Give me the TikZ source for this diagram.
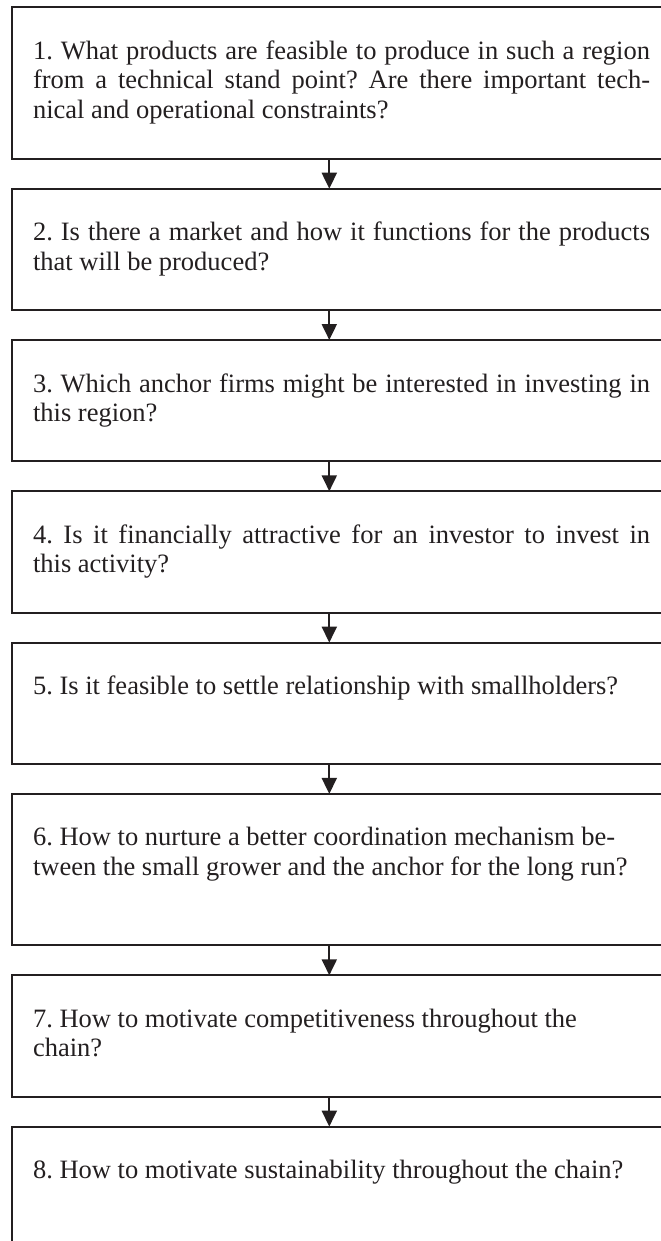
\documentclass[tikz,border=0pt]{standalone}
\usepackage{fontspec}
\setmainfont{Liberation Serif}
\usetikzlibrary{positioning,arrows.meta}

\definecolor{ink}{RGB}{35,31,32}
\colorlet{box edge}{ink}
\def\qwidth{246.8pt}
\def\shortbox{48.52pt}
\def\tallbox{60.56pt}
\newcommand{\qtext}[2]{\parbox[t][#1][t]{\qwidth}{\frenchspacing\tolerance=9999\rule{0pt}{20.8pt}#2}}
\tikzset{qbox/.style={draw=box edge, line width=0.8pt, rectangle, outer sep=0pt,
        inner xsep=8.3pt, inner ysep=0pt, text=ink,
        font=\fontsize{10.6pt}{11.8pt}\selectfont},
    flow/.style={draw=box edge, line width=0.8pt, -{Triangle[width=6pt,length=6.4pt]}}}

\begin{document}
\begin{tikzpicture}[node distance=12pt]
    \useasboundingbox (0,0) rectangle (264.4pt,-496.4pt);
    \clip (0,0) rectangle (264.4pt,-496.4pt);
    \coordinate (axis) at (131.72pt,0);

    \node[qbox, anchor=north west] (q1) at (4.92pt,-2.92pt)
        {\qtext{\tallbox}{1. What products are feasible to produce in such a region\linebreak
         from a technical stand point? Are there important tech-\linebreak
         nical and operational constraints?}};
    \node[qbox, below=of q1] (q2)
        {\qtext{\shortbox}{2. Is there a market and how it functions for the products\linebreak
         that will be produced?}};
    \node[qbox, below=of q2] (q3)
        {\qtext{\shortbox}{3. Which anchor firms might be interested in investing in\linebreak
         this region?}};
    \node[qbox, below=of q3] (q4)
        {\qtext{\shortbox}{4. Is it financially attractive for an investor to invest in\linebreak
         this activity?}};
    \node[qbox, below=of q4] (q5)
        {\qtext{\shortbox}{5. Is it feasible to settle relationship with smallholders?}};
    \node[qbox, below=of q5] (q6)
        {\qtext{\tallbox}{6. How to nurture a better coordination mechanism be-\\
         tween the small grower and the anchor for the long run?}};
    \node[qbox, below=of q6] (q7)
        {\qtext{\shortbox}{7. How to motivate competitiveness throughout the\\
         chain?}};
    \node[qbox, below=of q7] (q8)
        {\qtext{\tallbox}{8. How to motivate sustainability throughout the chain?}};

    \foreach \a/\b in {q1/q2, q2/q3, q3/q4, q4/q5, q5/q6, q6/q7, q7/q8}
        \draw[flow] (\a.south -| axis) -- (\b.north -| axis);
\end{tikzpicture}
\end{document}
